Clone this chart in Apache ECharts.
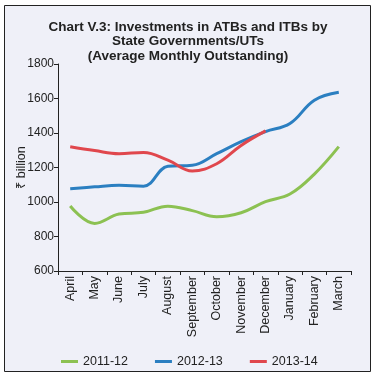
<!DOCTYPE html>
<html>
<head>
<meta charset="utf-8">
<script src="https://cdn.jsdelivr.net/npm/echarts@6/dist/echarts.min.js"></script>
<style>
  html, body { margin: 0; padding: 0; background: #fff; }
  #chart { width: 376px; height: 378px; }
</style>
</head>
<body>
<div id="chart"></div>
<script>
// months (fiscal year April-March)
const months = ["April", "May", "June", "July", "August", "September", "October",
  "November", "December", "January", "February", "March"];
// average monthly outstanding, ₹ billion
const fy1112 = [977, 876, 930, 940, 976, 950, 915, 938, 1002, 1046, 1162, 1321];
const fy1213 = [1077, 1088, 1097, 1092, 1207, 1213, 1280, 1350, 1408, 1455, 1590, 1636];
const fy1314 = [1320, 1298, 1280, 1287, 1243, 1180, 1222, 1328, 1412];
const seriesNames = ["2011-12", "2012-13", "2013-14"];

const font = '"Liberation Sans", Arial, sans-serif';
const chart = echarts.init(document.getElementById("chart"));

const option = {
  backgroundColor: "#ffffff",
  color: ["#8cc152", "#2b7fc1", "#e0474d"],
  graphic: [{
    type: "rect",
    z: -10,
    shape: { x: 4.5, y: 5.5, width: 366, height: 366 },
    style: { fill: "#eff0f8", stroke: "#222", lineWidth: 1 }
  }],
  title: {
    text: "Chart V.3: Investments in ATBs and ITBs by\nState Governments/UTs\n(Average Monthly Outstanding)",
    left: "center",
    top: 15,
    textStyle: { fontFamily: font, fontSize: 13.5, fontWeight: "bold", color: "#222", lineHeight: 14.5 }
  },
  legend: {
    data: seriesNames,
    left: 56,
    top: 350,
    icon: "rect",
    itemWidth: 17,
    itemHeight: 3,
    itemGap: 27,
    textStyle: { fontFamily: font, fontSize: 12.5, color: "#222" }
  },
  grid: { left: 58, right: 25, top: 64, bottom: 107, containLabel: false, outerBoundsMode: "none" },
  xAxis: {
    type: "category",
    data: months,
    boundaryGap: true,
    axisLine: { lineStyle: { color: "#222", width: 1 } },
    axisTick: { show: true, length: 4, lineStyle: { color: "#222" } },
    axisLabel: { rotate: 90, interval: 0, margin: 5, fontFamily: font, fontSize: 12.5, color: "#222" }
  },
  yAxis: {
    type: "value",
    min: 600,
    max: 1800,
    interval: 200,
    name: "₹ billion",
    nameLocation: "middle",
    nameRotate: 90,
    nameGap: 30,
    nameMoveOverlap: false,
    nameTextStyle: { fontFamily: font, fontSize: 12.5, color: "#222" },
    splitLine: { show: false },
    axisLine: { show: true, lineStyle: { color: "#222", width: 1 } },
    axisTick: { show: true, length: 4, lineStyle: { color: "#222" } },
    axisLabel: { margin: 4, fontFamily: font, fontSize: 12, color: "#222", formatter: v => String(v) }
  },
  series: [
    { name: seriesNames[0], type: "line", data: fy1112, smooth: 0.4, showSymbol: false, lineStyle: { width: 3 } },
    { name: seriesNames[1], type: "line", data: fy1213, smooth: 0.4, showSymbol: false, lineStyle: { width: 3 } },
    { name: seriesNames[2], type: "line", data: fy1314, smooth: 0.4, showSymbol: false, lineStyle: { width: 3 } }
  ]
};
chart.setOption(option);
</script>
</body>
</html>
